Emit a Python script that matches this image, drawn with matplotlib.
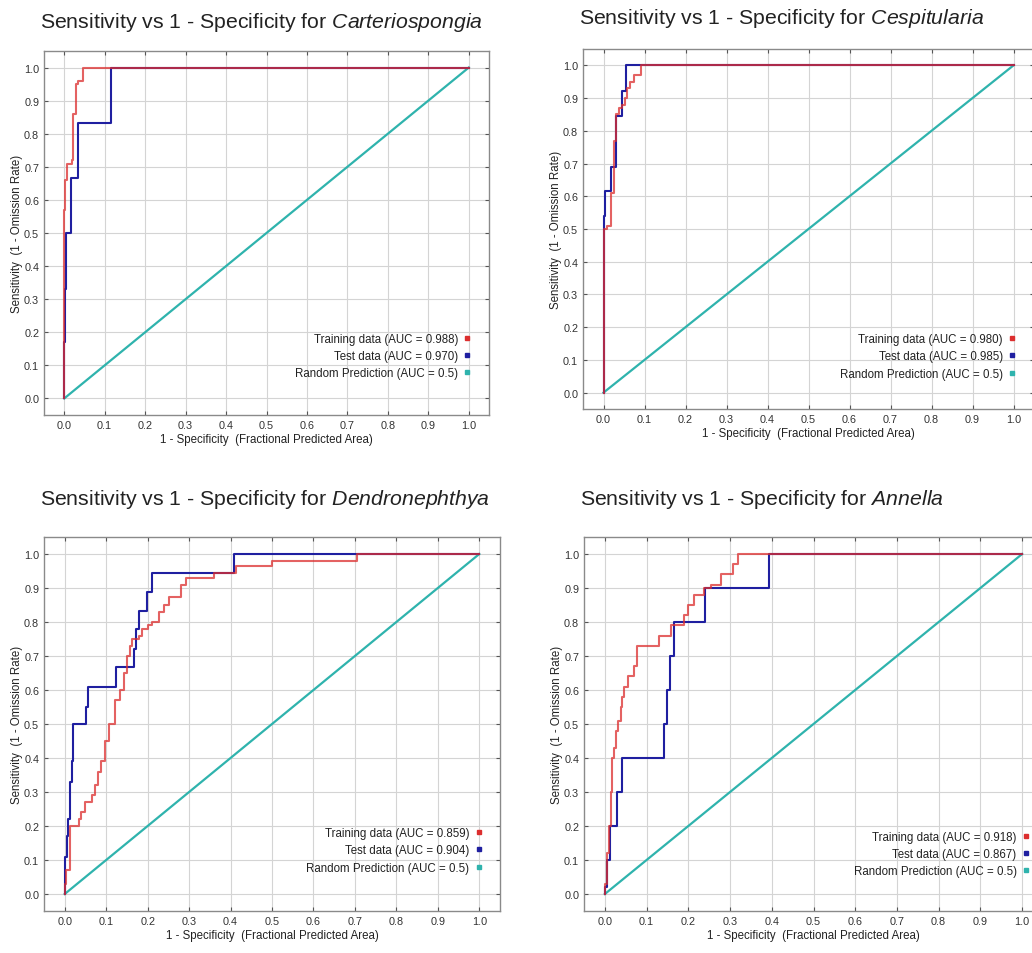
import matplotlib.pyplot as plt
from matplotlib.lines import Line2D

plt.rcParams['font.family'] = ['Liberation Sans', 'DejaVu Sans']
plt.rcParams['mathtext.fontset'] = 'custom'
plt.rcParams['mathtext.rm'] = 'Liberation Sans'
plt.rcParams['mathtext.it'] = 'Liberation Sans:italic'

# ROC step points (1 - specificity, sensitivity)
SPECIES = ["Carteriospongia", "Cespitularia", "Dendronephthya", "Annella"]

train_fpr_1 = [0, 0, 0.003, 0.008, 0.018, 0.022, 0.028, 0.033, 0.040, 0.046, 1.0]
train_tpr_1 = [0, 0.57, 0.66, 0.71, 0.72, 0.86, 0.95, 0.96, 0.96, 1.0, 1.0]
test_fpr_1 = [0, 0, 0.002, 0.005, 0.017, 0.035, 0.116, 1.0]
test_tpr_1 = [0, 0.17, 0.33, 0.5, 0.667, 0.833, 1.0, 1.0]

train_fpr_2 = [0, 0, 0.008, 0.018, 0.025, 0.030, 0.037, 0.045, 0.052, 0.058, 0.065, 0.075, 0.092, 1.0]
train_tpr_2 = [0, 0.50, 0.51, 0.61, 0.77, 0.85, 0.87, 0.88, 0.90, 0.93, 0.95, 0.97, 1.0, 1.0]
test_fpr_2 = [0, 0, 0.003, 0.019, 0.031, 0.044, 0.055, 1.0]
test_tpr_2 = [0, 0.54, 0.615, 0.69, 0.846, 0.923, 1.0, 1.0]

train_fpr_3 = [0, 0, 0.003, 0.013, 0.035, 0.040, 0.048, 0.066, 0.073, 0.080, 0.087, 0.098,
               0.106, 0.122, 0.134, 0.142, 0.150, 0.158, 0.163, 0.179, 0.187, 0.200, 0.211,
               0.227, 0.239, 0.251, 0.280, 0.292, 0.360, 0.412, 0.500, 0.705, 1.0]
train_tpr_3 = [0, 0.03, 0.07, 0.20, 0.22, 0.24, 0.27, 0.29, 0.32, 0.36, 0.39, 0.45,
               0.50, 0.57, 0.60, 0.65, 0.70, 0.73, 0.75, 0.76, 0.78, 0.79, 0.80,
               0.83, 0.85, 0.875, 0.91, 0.93, 0.945, 0.965, 0.98, 1.0, 1.0]
test_fpr_3 = [0, 0, 0.006, 0.008, 0.013, 0.017, 0.020, 0.052, 0.057, 0.124, 0.167, 0.172,
              0.179, 0.199, 0.211, 0.408, 1.0]
test_tpr_3 = [0, 0.11, 0.17, 0.22, 0.33, 0.39, 0.50, 0.55, 0.61, 0.667, 0.72, 0.78,
              0.833, 0.889, 0.944, 1.0, 1.0]

train_fpr_4 = [0, 0, 0.006, 0.010, 0.014, 0.017, 0.022, 0.026, 0.032, 0.038, 0.042, 0.046,
               0.056, 0.070, 0.078, 0.130, 0.158, 0.190, 0.200, 0.214, 0.238, 0.254, 0.278,
               0.306, 0.318, 1.0]
train_tpr_4 = [0, 0.03, 0.12, 0.20, 0.30, 0.40, 0.43, 0.48, 0.51, 0.55, 0.58, 0.61,
               0.64, 0.67, 0.73, 0.76, 0.79, 0.82, 0.85, 0.88, 0.90, 0.91, 0.94,
               0.97, 1.0, 1.0]
test_fpr_4 = [0, 0, 0.004, 0.012, 0.029, 0.042, 0.142, 0.149, 0.155, 0.165, 0.240, 0.393, 1.0]
test_tpr_4 = [0, 0.02, 0.1, 0.2, 0.3, 0.4, 0.5, 0.6, 0.7, 0.8, 0.9, 1.0, 1.0]

train_auc = ["0.988", "0.980", "0.859", "0.918"]
test_auc = ["0.970", "0.985", "0.904", "0.867"]

TRAIN_FPR = [train_fpr_1, train_fpr_2, train_fpr_3, train_fpr_4]
TRAIN_TPR = [train_tpr_1, train_tpr_2, train_tpr_3, train_tpr_4]
TEST_FPR = [test_fpr_1, test_fpr_2, test_fpr_3, test_fpr_4]
TEST_TPR = [test_tpr_1, test_tpr_2, test_tpr_3, test_tpr_4]

RED = "#dc2e2e"
BLUE = "#1f1fa0"
CYAN = "#2fb3ad"

W, H = 1032, 954
# axes boxes in pixels: left, top, right, bottom
BOXES = [(44, 52, 489, 416), (583, 50, 1034, 410), (44, 538, 500, 912), (584, 538, 1043, 912)]
TITLE_Y = [22, 18, 500, 500]
LEGEND_ANCHOR = [(1.005, 0.058), (1.005, 0.04), (1.007, 0.06), (1.017, 0.05)]

fig = plt.figure(figsize=(W / 100, H / 100), dpi=100)

ticks = [i / 10 for i in range(11)]
tick_labels = [f"{t:.1f}" for t in ticks]

for i, (l, t, r, b) in enumerate(BOXES):
    ax = fig.add_axes([l / W, 1 - b / H, (r - l) / W, (b - t) / H])
    ax.set_xlim(-0.05, 1.05)
    ax.set_ylim(-0.05, 1.05)
    ax.set_xticks(ticks)
    ax.set_yticks(ticks)
    ax.set_xticklabels(tick_labels)
    ax.set_yticklabels(tick_labels)
    ax.grid(True, color="#d4d4d4", linewidth=0.8)
    ax.set_axisbelow(True)
    ax.tick_params(direction="in", length=3, width=0.8, top=True, right=True,
                   labelsize=7.8, labelcolor="#333333", colors="#555555", pad=3.5)
    for sp in ax.spines.values():
        sp.set_color("#8a8a8a")
        sp.set_linewidth(1.0)

    ax.plot([0, 1], [0, 1], color=CYAN, lw=1.6)
    ax.step(TEST_FPR[i], TEST_TPR[i], where="post", color=BLUE, lw=1.5)
    ax.step(TRAIN_FPR[i], TRAIN_TPR[i], where="post", color=RED, lw=1.5, alpha=0.75)

    ax.set_xlabel("1 - Specificity  (Fractional Predicted Area)", fontsize=8.3, color="#222222", labelpad=2)
    ax.set_ylabel("Sensitivity  (1 - Omission Rate)", fontsize=8.3, color="#222222")
    # label sits about 21 px left of the axes frame
    ax.yaxis.set_label_coords(-21 / (r - l), 0.5)

    handles = [
        Line2D([], [], ls="none", marker="s", ms=3.5, color=RED),
        Line2D([], [], ls="none", marker="s", ms=3.5, color=BLUE),
        Line2D([], [], ls="none", marker="s", ms=3.5, color=CYAN),
    ]
    labels = [
        f"Training data (AUC = {train_auc[i]})",
        f"Test data (AUC = {test_auc[i]})",
        "Random Prediction (AUC = 0.5)",
    ]
    leg = ax.legend(handles, labels, loc="lower right", bbox_to_anchor=LEGEND_ANCHOR[i],
                    bbox_transform=ax.transData, markerfirst=False, frameon=False,
                    fontsize=8.3, handlelength=0.6, handletextpad=0.5, labelspacing=0.45,
                    borderpad=0, borderaxespad=0)
    for txt in leg.get_texts():
        txt.set_ha("right")
        txt.set_color("#222222")

    fig.text((l - 4) / W, 1 - TITLE_Y[i] / H,
             "Sensitivity vs 1 - Specificity for $\\it{" + SPECIES[i] + "}$",
             fontsize=15.3, ha="left", va="center", color="#222222")

fig.savefig("out.png", dpi=100)
